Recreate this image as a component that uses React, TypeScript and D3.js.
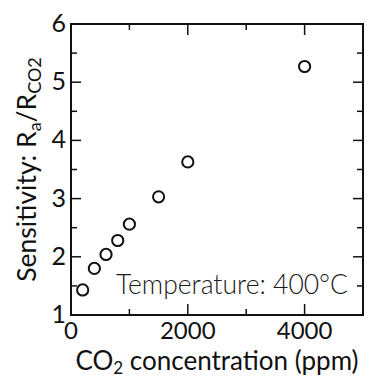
import React, { useEffect, useRef } from "react";
import * as d3 from "d3";

const concentration = [200, 400, 600, 800, 1000, 1500, 2000, 4000];
const sensitivity = [1.43, 1.8, 2.04, 2.28, 2.56, 3.03, 3.63, 5.27];
const xMajorTicks = [0, 2000, 4000];
const xMinorTicks = [1000, 3000, 5000];
const yMajorTicks = [1, 2, 3, 4, 5, 6];
const yMinorTicks = [1.5, 2.5, 3.5, 4.5, 5.5];

const FONT = "Lato, 'Open Sans', sans-serif";

const App = () => {
  const ref = useRef<SVGSVGElement>(null);

  useEffect(() => {
    const svg = d3.select(ref.current);
    svg.selectAll("*").remove();

    const margin = { top: 24, right: 12, bottom: 63, left: 71 };
    const width = 375 - margin.left - margin.right;
    const height = 378 - margin.top - margin.bottom;

    const g = svg.append("g").attr("transform", `translate(${margin.left},${margin.top})`);

    const x = d3.scaleLinear().domain([0, 5000]).range([0, width]);
    const y = d3.scaleLinear().domain([1, 6]).range([height, 0]);

    // ticks on all four sides, pointing inward
    const tickStroke = "#111";
    const drawX = (vals: number[], len: number) => {
      vals.forEach((v) => {
        g.append("line").attr("x1", x(v)).attr("x2", x(v)).attr("y1", height).attr("y2", height - len).attr("stroke", tickStroke).attr("stroke-width", 1.5);
        g.append("line").attr("x1", x(v)).attr("x2", x(v)).attr("y1", 0).attr("y2", len).attr("stroke", tickStroke).attr("stroke-width", 1.5);
      });
    };
    const drawY = (vals: number[], len: number) => {
      vals.forEach((v) => {
        g.append("line").attr("x1", 0).attr("x2", len).attr("y1", y(v)).attr("y2", y(v)).attr("stroke", tickStroke).attr("stroke-width", 1.5);
        g.append("line").attr("x1", width).attr("x2", width - len).attr("y1", y(v)).attr("y2", y(v)).attr("stroke", tickStroke).attr("stroke-width", 1.5);
      });
    };
    drawX(xMajorTicks, 11);
    drawX(xMinorTicks, 6);
    drawY(yMajorTicks, 10);
    drawY(yMinorTicks, 6);

    g.append("rect").attr("width", width).attr("height", height).attr("fill", "none").attr("stroke", "#111").attr("stroke-width", 2);

    // tick labels
    g.selectAll(".xl")
      .data(xMajorTicks)
      .join("text")
      .attr("x", (d) => x(d))
      .attr("y", height + 24)
      .attr("text-anchor", "middle")
      .style("font-family", FONT)
      .style("font-size", "24px")
      .attr("fill", "#111")
      .text((d) => d);

    g.selectAll(".yl")
      .data(yMajorTicks)
      .join("text")
      .attr("x", -5)
      .attr("y", (d) => y(d) + 8)
      .attr("text-anchor", "end")
      .style("font-family", FONT)
      .style("font-size", "25px")
      .attr("fill", "#111")
      .text((d) => d);

    // points
    g.selectAll("circle")
      .data(concentration)
      .join("circle")
      .attr("cx", (d) => x(d))
      .attr("cy", (d, i) => y(sensitivity[i]))
      .attr("r", 5.6)
      .attr("fill", "none")
      .attr("stroke", "#111")
      .attr("stroke-width", 2);

    // annotation
    g.append("text")
      .attr("x", width - 15)
      .attr("y", y(1.5) + 8)
      .attr("text-anchor", "end")
      .style("font-family", FONT)
      .style("font-size", "26.5px")
      .style("font-weight", 300)
      .attr("fill", "#1a1a1a")
      .text("Temperature: 400°C");

    // x title
    const xt = svg
      .append("text")
      .attr("x", margin.left + width / 2)
      .attr("y", 370)
      .attr("text-anchor", "middle")
      .style("font-family", FONT)
      .style("font-size", "26px")
      .attr("fill", "#111");
    xt.append("tspan").text("CO");
    xt.append("tspan").attr("dy", 4).style("font-size", "17px").text("2");
    xt.append("tspan").attr("dy", -4).text(" concentration (ppm)");

    // y title
    const yt = svg
      .append("text")
      .attr("transform", `translate(36,${margin.top + height / 2}) rotate(-90)`)
      .attr("text-anchor", "middle")
      .style("font-family", FONT)
      .style("font-size", "26.5px")
      .attr("fill", "#111");
    yt.append("tspan").text("Sensitivity: R");
    yt.append("tspan").attr("dy", 5).style("font-size", "18px").text("a");
    yt.append("tspan").attr("dy", -5).text("/R");
    yt.append("tspan").attr("dy", 5).style("font-size", "18px").text("CO2");
  }, []);

  return <svg ref={ref} width={375} height={378} style={{ position: "absolute", left: 0, top: 0 }}></svg>;
};

export default App;
